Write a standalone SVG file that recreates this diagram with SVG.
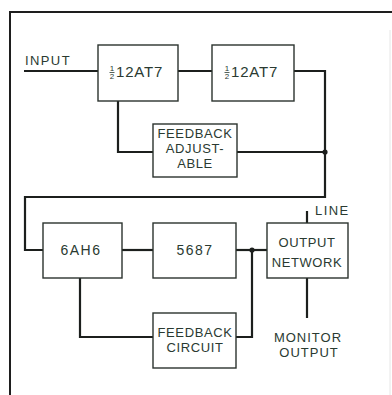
<svg xmlns="http://www.w3.org/2000/svg" width="392" height="395" viewBox="0 0 392 395">
<style>
.box{fill:#fff;stroke:#2b332e;stroke-width:1.4}
.wire{fill:none;stroke:#1c1f1d;stroke-width:2.2;stroke-linejoin:miter}
.frame{fill:none;stroke:#1e1e1e;stroke-width:2}
text{font-family:"Liberation Sans","DejaVu Sans",sans-serif;font-size:13px;fill:#2a3a31;letter-spacing:0.6px}
.c{text-anchor:middle}
.fr{font-size:8px;letter-spacing:0}
</style>
<rect width="392" height="395" fill="#fff"/>
<g id="frame">
<path class="frame" d="M10,395 V12 H392"/>
<path d="M390,30 V395" stroke="#e6e6e6" stroke-width="1" fill="none"/>
</g>
<g id="connectors">
<path class="wire" d="M24,71 H98"/>
<path class="wire" d="M178,71 H212"/>
<path class="wire" d="M294,71 H325 V197 H25 V250 H43"/>
<path class="wire" d="M118,101 V152 H153"/>
<path class="wire" d="M237,152 H325"/>
<circle cx="325" cy="152" r="2.6" fill="#1c1f1d"/>
<path class="wire" d="M122,250 H153"/>
<path class="wire" d="M236,250 H267"/>
<path class="wire" d="M80,278 V337 H153"/>
<path class="wire" d="M236,337 H252 V250"/>
<circle cx="252" cy="250" r="2.6" fill="#1c1f1d"/>
<path class="wire" d="M307,211 V223"/>
<path class="wire" d="M307,278 V318"/>
</g>
<g id="input-label"><text x="25" y="65" style="letter-spacing:1.4px">INPUT</text></g>
<g id="amp1">
<rect class="box" x="98" y="45" width="80" height="56"/>
<text class="fr" x="112" y="71" text-anchor="middle">1</text>
<path d="M109.5,72.5 H114.5" stroke="#2a3a31" stroke-width="0.8"/>
<text class="fr" x="112" y="79" text-anchor="middle">2</text>
<text x="116" y="77" style="font-size:15px;letter-spacing:0.8px">12AT7</text>
</g>
<g id="amp2">
<rect class="box" x="212" y="45" width="82" height="56"/>
<text class="fr" x="227" y="71" text-anchor="middle">1</text>
<path d="M224.5,72.5 H229.5" stroke="#2a3a31" stroke-width="0.8"/>
<text class="fr" x="227" y="79" text-anchor="middle">2</text>
<text x="231" y="77" style="font-size:15px;letter-spacing:0.8px">12AT7</text>
</g>
<g id="feedback-adjustable">
<rect class="box" x="153" y="124" width="84" height="53"/>
<text class="c" x="195" y="138">FEEDBACK</text>
<text class="c" x="195" y="153">ADJUST-</text>
<text class="c" x="195" y="168">ABLE</text>
</g>
<g id="tube-6ah6">
<rect class="box" x="43" y="223" width="79" height="55"/>
<text class="c" x="81" y="255" style="font-size:14px;letter-spacing:1.5px">6AH6</text>
</g>
<g id="tube-5687">
<rect class="box" x="153" y="223" width="83" height="55"/>
<text class="c" x="195" y="255" style="font-size:14px;letter-spacing:1.5px">5687</text>
</g>
<g id="output-network">
<rect class="box" x="267" y="223" width="81" height="55"/>
<text class="c" x="307" y="247">OUTPUT</text>
<text class="c" x="307" y="267">NETWORK</text>
</g>
<g id="feedback-circuit">
<rect class="box" x="153" y="313" width="83" height="55"/>
<text class="c" x="195" y="337">FEEDBACK</text>
<text class="c" x="195" y="352">CIRCUIT</text>
</g>
<g id="line-label"><text x="315" y="215" style="letter-spacing:1.4px">LINE</text></g>
<g id="monitor-label">
<text class="c" x="308" y="342" style="letter-spacing:1px">MONITOR</text>
<text class="c" x="309" y="357" style="letter-spacing:1px">OUTPUT</text>
</g>
</svg>
